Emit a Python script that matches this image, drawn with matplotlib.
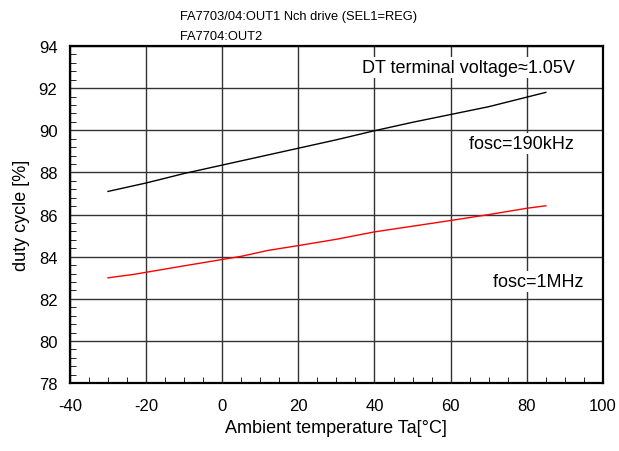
import matplotlib.pyplot as plt
from matplotlib.ticker import MultipleLocator

plt.rcParams['font.family'] = ['Liberation Sans', 'DejaVu Sans']
plt.rcParams['axes.unicode_minus'] = False

# data
temp_190k = [-30, -20, -10, 0, 10, 20, 30, 40, 50, 60, 70, 85]
duty_190k = [87.1, 87.5, 87.95, 88.35, 88.75, 89.15, 89.55, 89.98, 90.38, 90.75, 91.12, 91.8]

temp_1m = [-30, -23, -10, 0, 5, 12, 20, 30, 40, 50, 60, 70, 80, 85]
duty_1m = [83.0, 83.17, 83.57, 83.87, 84.02, 84.3, 84.53, 84.83, 85.18, 85.45, 85.72, 86.0, 86.3, 86.42]

fig = plt.figure(figsize=(6.19, 4.52), dpi=100)
ax = fig.add_axes([0.113, 0.150, 0.861, 0.746])

ax.plot(temp_190k, duty_190k, color='black', linewidth=1.0)
ax.plot(temp_1m, duty_1m, color='red', linewidth=1.0)

ax.set_xlim(-40, 100)
ax.set_ylim(78, 94)
ax.xaxis.set_major_locator(MultipleLocator(20))
ax.yaxis.set_major_locator(MultipleLocator(2))
ax.xaxis.set_minor_locator(MultipleLocator(5))
ax.yaxis.set_minor_locator(MultipleLocator(0.4))
ax.tick_params(which='both', direction='in', labelsize=12)
ax.tick_params(axis='x', pad=11)
ax.tick_params(axis='y', pad=9)
ax.tick_params(which='major', length=0)
ax.tick_params(which='minor', length=4)
ax.grid(True, which='major', color='#333333', linewidth=1.0)
ax.set_axisbelow(True)
for s in ax.spines.values():
    s.set_linewidth(1.6)

ax.set_xlabel('Ambient temperature Ta[°C]', fontsize=13, labelpad=4)
ax.set_ylabel('duty cycle [%]', fontsize=13, labelpad=6)

fig.text(0.291, 0.962, 'FA7703/04:OUT1 Nch drive (SEL1=REG)', fontsize=9.3, va='center')
fig.text(0.291, 0.918, 'FA7704:OUT2', fontsize=9.3, va='center')

box = dict(facecolor='white', edgecolor='none', pad=1.5)
ax.text(0.947, 0.936, 'DT terminal voltage≈1.05V', transform=ax.transAxes,
        fontsize=13, ha='right', va='center', bbox=box)
ax.text(0.848, 0.71, '  fosc=190kHz  ', transform=ax.transAxes,
        fontsize=13, ha='center', va='center', bbox=box)
ax.text(0.878, 0.302, ' fosc=1MHz ', transform=ax.transAxes,
        fontsize=13, ha='center', va='center', bbox=box)

fig.savefig('out.png', dpi=100)
